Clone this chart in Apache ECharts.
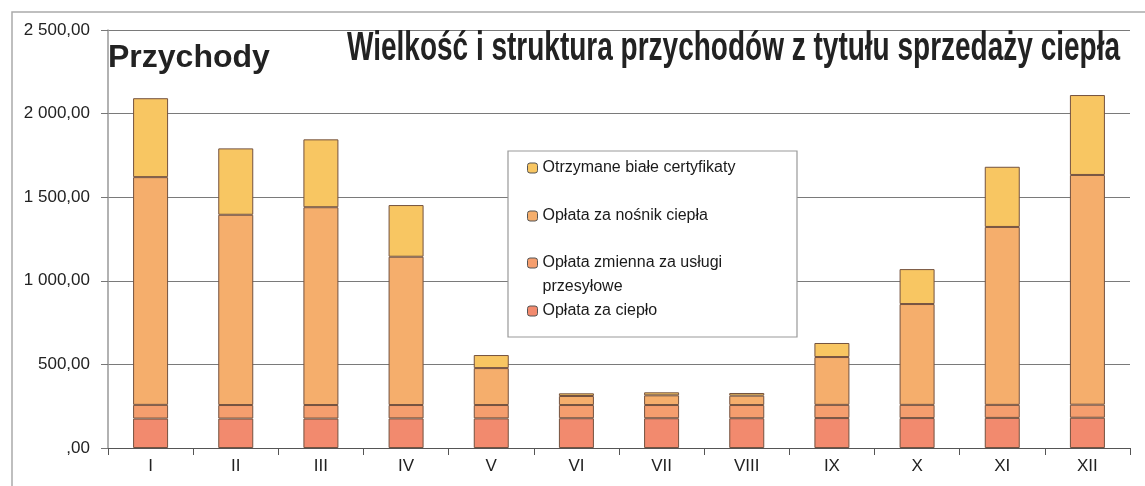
<!DOCTYPE html>
<html>
<head>
<meta charset="utf-8">
<script src="https://cdn.jsdelivr.net/npm/echarts@6/dist/echarts.min.js"></script>
<style>
  html, body { margin: 0; padding: 0; background: #fff; }
  #main { width: 1145px; height: 486px; }
</style>
</head>
<body>
<div id="main"></div>
<script>
// miesiące
var months = ['I', 'II', 'III', 'IV', 'V', 'VI', 'VII', 'VIII', 'IX', 'X', 'XI', 'XII'];

// składniki przychodów (od dołu słupka)
var oplataCieplo = [176, 176, 176, 177, 177, 178, 178, 178, 179, 179, 180, 181];
var oplataZmienna = [82, 81, 81, 80, 80, 79, 79, 79, 79, 79, 78, 78];
var oplataNosnik = [1362, 1138, 1183, 887, 221, 54, 58, 56, 286, 603, 1064, 1374];
var certyfikaty = [472, 397, 406, 309, 78, 16, 18, 16, 84, 209, 360, 478];

var yTicks = [0, 500, 1000, 1500, 2000, 2500];

var titleText = 'Wielkość i struktura przychodów z tytułu sprzedaży ciepła';
var font = '"Liberation Sans", Arial, sans-serif';

// dopasowanie szerokości tytułu (w oryginale czcionka zwężona)
var ctx = document.createElement('canvas').getContext('2d');
ctx.font = 'bold 41px "Liberation Sans"';
var titleScale = 773 / ctx.measureText(titleText).width;

function fmtPl(v) {
	if (v === 0) return ',00';
	var s = String(Math.round(v));
	s = s.replace(/\B(?=(\d{3})+(?!\d))/g, ' ');
	return s + ',00';
}

var chart = echarts.init(document.getElementById('main'), null, { renderer: 'canvas' });

var barStyle = function (color) {
	return {
		color: color,
		borderColor: '#74523f',
		borderWidth: 1
	};
};

var option = {
	backgroundColor: '#fff',
	animation: false,
	title: {
		text: 'Przychody',
		left: 103,
		top: 37,
		textStyle: {
			fontFamily: font,
			fontSize: 32,
			fontWeight: 'bold',
			color: '#222'
		}
	},
	grid: {
		left: 108,
		right: 15,
		top: 30,
		bottom: 38
	},
	legend: [
		{
			orient: 'vertical',
			left: 527,
			top: 156,
			padding: 0,
			itemGap: 24,
			itemWidth: 10,
			itemHeight: 10,
			z: 10,
			data: ['Otrzymane białe certyfikaty', 'Opłata za nośnik ciepła'],
			textStyle: { fontFamily: font, fontSize: 16, color: '#1a1a1a', lineHeight: 24 },
			itemStyle: { borderColor: '#555', borderWidth: 1 }
		},
		{
			orient: 'vertical',
			left: 527,
			top: 227,
			padding: 0,
			itemGap: 0,
			itemWidth: 10,
			itemHeight: 10,
			z: 10,
			data: ['Opłata zmienna za usługi przesyłowe', 'Opłata za ciepło'],
			formatter: function (name) {
				// pusta linia na górze, żeby ikona stała przy pierwszym wierszu
				return name.indexOf(' przesyłowe') > 0 ? '\n' + name.replace(' przesyłowe', '\nprzesyłowe') : name;
			},
			textStyle: { fontFamily: font, fontSize: 16, color: '#1a1a1a', lineHeight: 24 },
			itemStyle: { borderColor: '#555', borderWidth: 1 }
		}
	],
	xAxis: {
		type: 'category',
		data: months,
		axisLine: { lineStyle: { color: '#555', width: 1 } },
		axisTick: { show: true, length: 7, lineStyle: { color: '#555' } },
		axisLabel: {
			fontFamily: font,
			fontSize: 17,
			color: '#222',
			margin: 10
		}
	},
	yAxis: {
		type: 'value',
		min: yTicks[0],
		max: yTicks[yTicks.length - 1],
		interval: 500,
		axisLine: { show: true, lineStyle: { color: '#999', width: 1.5 } },
		axisTick: { show: true, length: 7, lineStyle: { color: '#777' } },
		splitLine: { lineStyle: { color: '#7a7a7a', width: 1 } },
		axisLabel: {
			fontFamily: font,
			fontSize: 17,
			color: '#222',
			margin: 18,
			formatter: fmtPl
		}
	},
	series: [
		{
			name: 'Opłata za ciepło',
			type: 'bar',
			stack: 'p',
			barWidth: 35,
			itemStyle: barStyle('#f28a6e'),
			data: oplataCieplo
		},
		{
			name: 'Opłata zmienna za usługi przesyłowe',
			type: 'bar',
			stack: 'p',
			barWidth: 35,
			itemStyle: barStyle('#f59e6e'),
			data: oplataZmienna
		},
		{
			name: 'Opłata za nośnik ciepła',
			type: 'bar',
			stack: 'p',
			barWidth: 35,
			itemStyle: barStyle('#f5ae6c'),
			data: oplataNosnik
		},
		{
			name: 'Otrzymane białe certyfikaty',
			type: 'bar',
			stack: 'p',
			barWidth: 35,
			itemStyle: barStyle('#f8c662'),
			data: certyfikaty
		}
	],
	graphic: [
		{
			// ramka wykresu (lewa i górna krawędź)
			type: 'rect',
			z: 0,
			shape: { x: 12, y: 12, width: 1400, height: 700 },
			style: { fill: 'none', stroke: '#aaa', lineWidth: 1.5 }
		},
		{
			// ramka legendy
			type: 'rect',
			z: 9,
			shape: { x: 508, y: 151, width: 289, height: 186 },
			style: { fill: '#fff', stroke: '#999', lineWidth: 1.2 }
		},
		{
			type: 'text',
			z: 10,
			x: 347,
			y: 28,
			scaleX: titleScale,
			style: {
				text: titleText,
				font: 'bold 41px "Liberation Sans"',
				fill: '#222',
				verticalAlign: 'top'
			}
		}
	]
};

chart.setOption(option);
</script>
</body>
</html>
